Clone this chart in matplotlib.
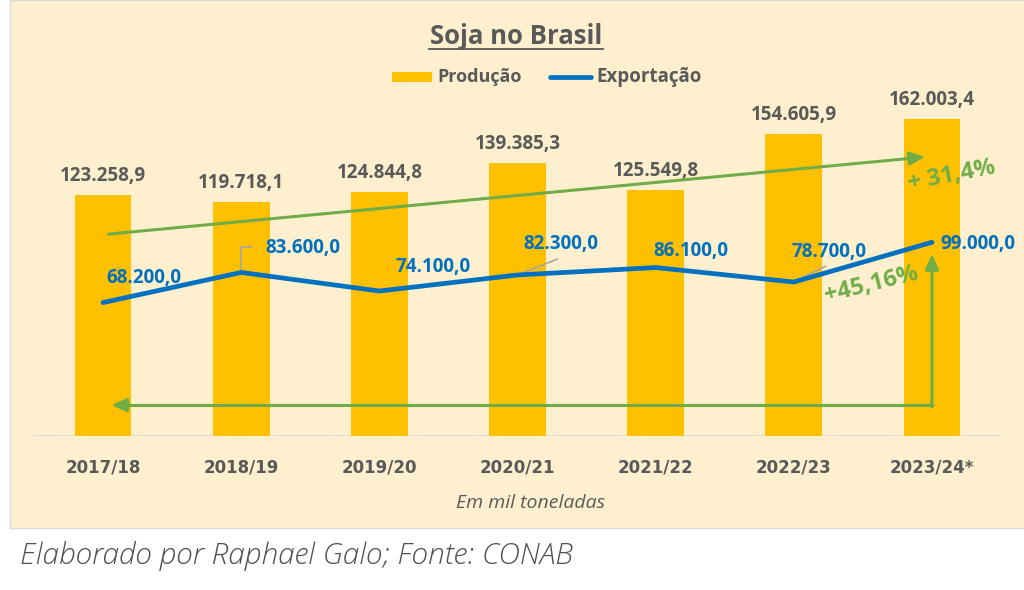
#!/usr/bin/env python3
import matplotlib.pyplot as plt
import numpy as np
from matplotlib.patches import Rectangle
from matplotlib.lines import Line2D

SAFRAS = ["2017/18", "2018/19", "2019/20", "2020/21", "2021/22", "2022/23", "2023/24*"]
PRODUCAO = [123258.9, 119718.1, 124844.8, 139385.3, 125549.8, 154605.9, 162003.4]
EXPORTACAO = [68200.0, 83600.0, 74100.0, 82300.0, 86100.0, 78700.0, 99000.0]

# label offsets (pixels) for the export labels, as placed in the original
EXP_OFFSETS = [(41, 25), (62, 24), (54, 24), (43, 31), (35, 17), (35, 30), (46, -2)]
# leader lines: (end offset in pixels, style)
EXP_LEADERS = [None, ((11, 25), "angle"), None, ((40, 16), "line"),
               None, ((32, 16), "line"), None]

BG = "#FEF0CE"
YELLOW = "#FFC000"
BLUE = "#0070C0"
GREEN = "#70AD47"
GRAY = "#595959"


def fmt_br(v):
    s = f"{v:,.1f}"
    return s.replace(",", "X").replace(".", ",").replace("X", ".")


fig = plt.figure(figsize=(10.24, 5.9), dpi=100)
fig.patch.set_facecolor("white")
fig.patches.append(Rectangle((10 / 1024, 62 / 590), 1014 / 1024, 528 / 590,
                             transform=fig.transFigure, facecolor=BG,
                             edgecolor="#D9D9D9", linewidth=1, zorder=-10))

ax = fig.add_axes([34 / 1024, (590 - 436) / 590, 967 / 1024, 342 / 590])
ax.set_facecolor("none")
ax.set_zorder(2)
x = np.arange(len(SAFRAS))

ax.bar(x, PRODUCAO, width=0.41, color=YELLOW, zorder=2)
ax.plot(x, EXPORTACAO, color=BLUE, linewidth=3.4, solid_capstyle="round",
        solid_joinstyle="miter", zorder=4)

ax.set_xlim(-0.5, len(SAFRAS) - 0.5)
ax.set_ylim(0, 174800)
for s in ax.spines.values():
    s.set_visible(False)
ax.axhline(0, color="#D9D9D9", linewidth=1.2, zorder=1)
ax.set_yticks([])
ax.set_xticks(x)
ax.set_xticklabels(SAFRAS, fontsize=12, fontweight="bold", color=GRAY,
                   family="DejaVu Sans")
ax.tick_params(axis="x", length=0, pad=16)

# production labels
for xi, v in zip(x, PRODUCAO):
    ax.annotate(fmt_br(v), (xi, v), xytext=(0, 19), textcoords="offset pixels",
                ha="center", va="center", fontsize=13.5, fontweight="bold",
                color=GRAY, family="Open Sans", zorder=5)

# export labels with leader lines
for xi, v, (dx, dy), lead in zip(x, EXPORTACAO, EXP_OFFSETS, EXP_LEADERS):
    ax.annotate(fmt_br(v), (xi, v), xytext=(dx, dy), textcoords="offset pixels",
                ha="center", va="center", fontsize=13.5, fontweight="bold",
                color=BLUE, family="Open Sans", zorder=5)
    if lead is not None:
        end, style = lead
        conn = "angle,angleA=0,angleB=90,rad=0" if style == "angle" else "arc3"
        ax.annotate("", (xi, v), xytext=end, textcoords="offset pixels",
                    arrowprops=dict(arrowstyle="-", color="#A6A6A6", lw=1.2,
                                    shrinkA=0, shrinkB=1, connectionstyle=conn),
                    zorder=3)

# green growth arrows
head = "-|>,head_length=0.9,head_width=0.4"
ax.annotate("", xy=(5.95, 142600), xytext=(0.04, 103200),
            arrowprops=dict(arrowstyle=head, color=GREEN, lw=2.2,
                            shrinkA=0, shrinkB=0), zorder=6)
ax.plot([6, 0.15], [15800, 15800], color=GREEN, lw=2.2, zorder=6)
ax.annotate("", xy=(0.06, 15800), xytext=(0.2, 15800),
            arrowprops=dict(arrowstyle=head, color=GREEN, lw=2.2,
                            shrinkA=0, shrinkB=0), zorder=6)
ax.annotate("", xy=(6, 93000), xytext=(6, 15000),
            arrowprops=dict(arrowstyle=head, color=GREEN, lw=2.2,
                            shrinkA=0, shrinkB=0), zorder=6)
ax.text(6.14, 133000, "+ 31,4%", rotation=11, ha="center", va="center",
        fontsize=17, fontweight="bold", color=GREEN, family="Open Sans", zorder=7)
ax.text(5.56, 77500, "+45,16%", rotation=14, ha="center", va="center",
        fontsize=17, fontweight="bold", color=GREEN, family="Open Sans", zorder=7)

# title with underline
fig.text(516 / 1024, 1 - 36 / 590, "Soja no Brasil", ha="center", va="center",
         fontsize=18.5, fontweight="bold", color=GRAY, family="Open Sans")
fig.add_artist(Line2D([429 / 1024, 603 / 1024], [1 - 49 / 590, 1 - 49 / 590],
                      color=GRAY, lw=1.3, transform=fig.transFigure))

# legend
fig.patches.append(Rectangle((392 / 1024, 1 - 82 / 590), 40 / 1024, 10 / 590,
                             transform=fig.transFigure, facecolor=YELLOW,
                             edgecolor="none"))
fig.text(437 / 1024, 1 - 77 / 590, "Produção", ha="left", va="center",
         fontsize=13, fontweight="bold", color=GRAY, family="Open Sans")
fig.add_artist(Line2D([550 / 1024, 591 / 1024], [1 - 77 / 590, 1 - 77 / 590],
                      color=BLUE, lw=3.4, solid_capstyle="round",
                      transform=fig.transFigure))
fig.text(596 / 1024, 1 - 77 / 590, "Exportação", ha="left", va="center",
         fontsize=13.5, fontweight="bold", color=GRAY, family="Open Sans")

fig.text(531 / 1024, 1 - 503 / 590, "Em mil toneladas", ha="center", va="center",
         fontsize=14, style="italic", color=GRAY, family="Open Sans")
fig.text(20 / 1024, 1 - 556 / 590, "Elaborado por Raphael Galo; Fonte: CONAB",
         ha="left", va="center", fontsize=21.5, style="italic", color="#505050",
         family="Open Sans", fontweight="light")

fig.savefig("out.png", dpi=100, facecolor=fig.get_facecolor())
